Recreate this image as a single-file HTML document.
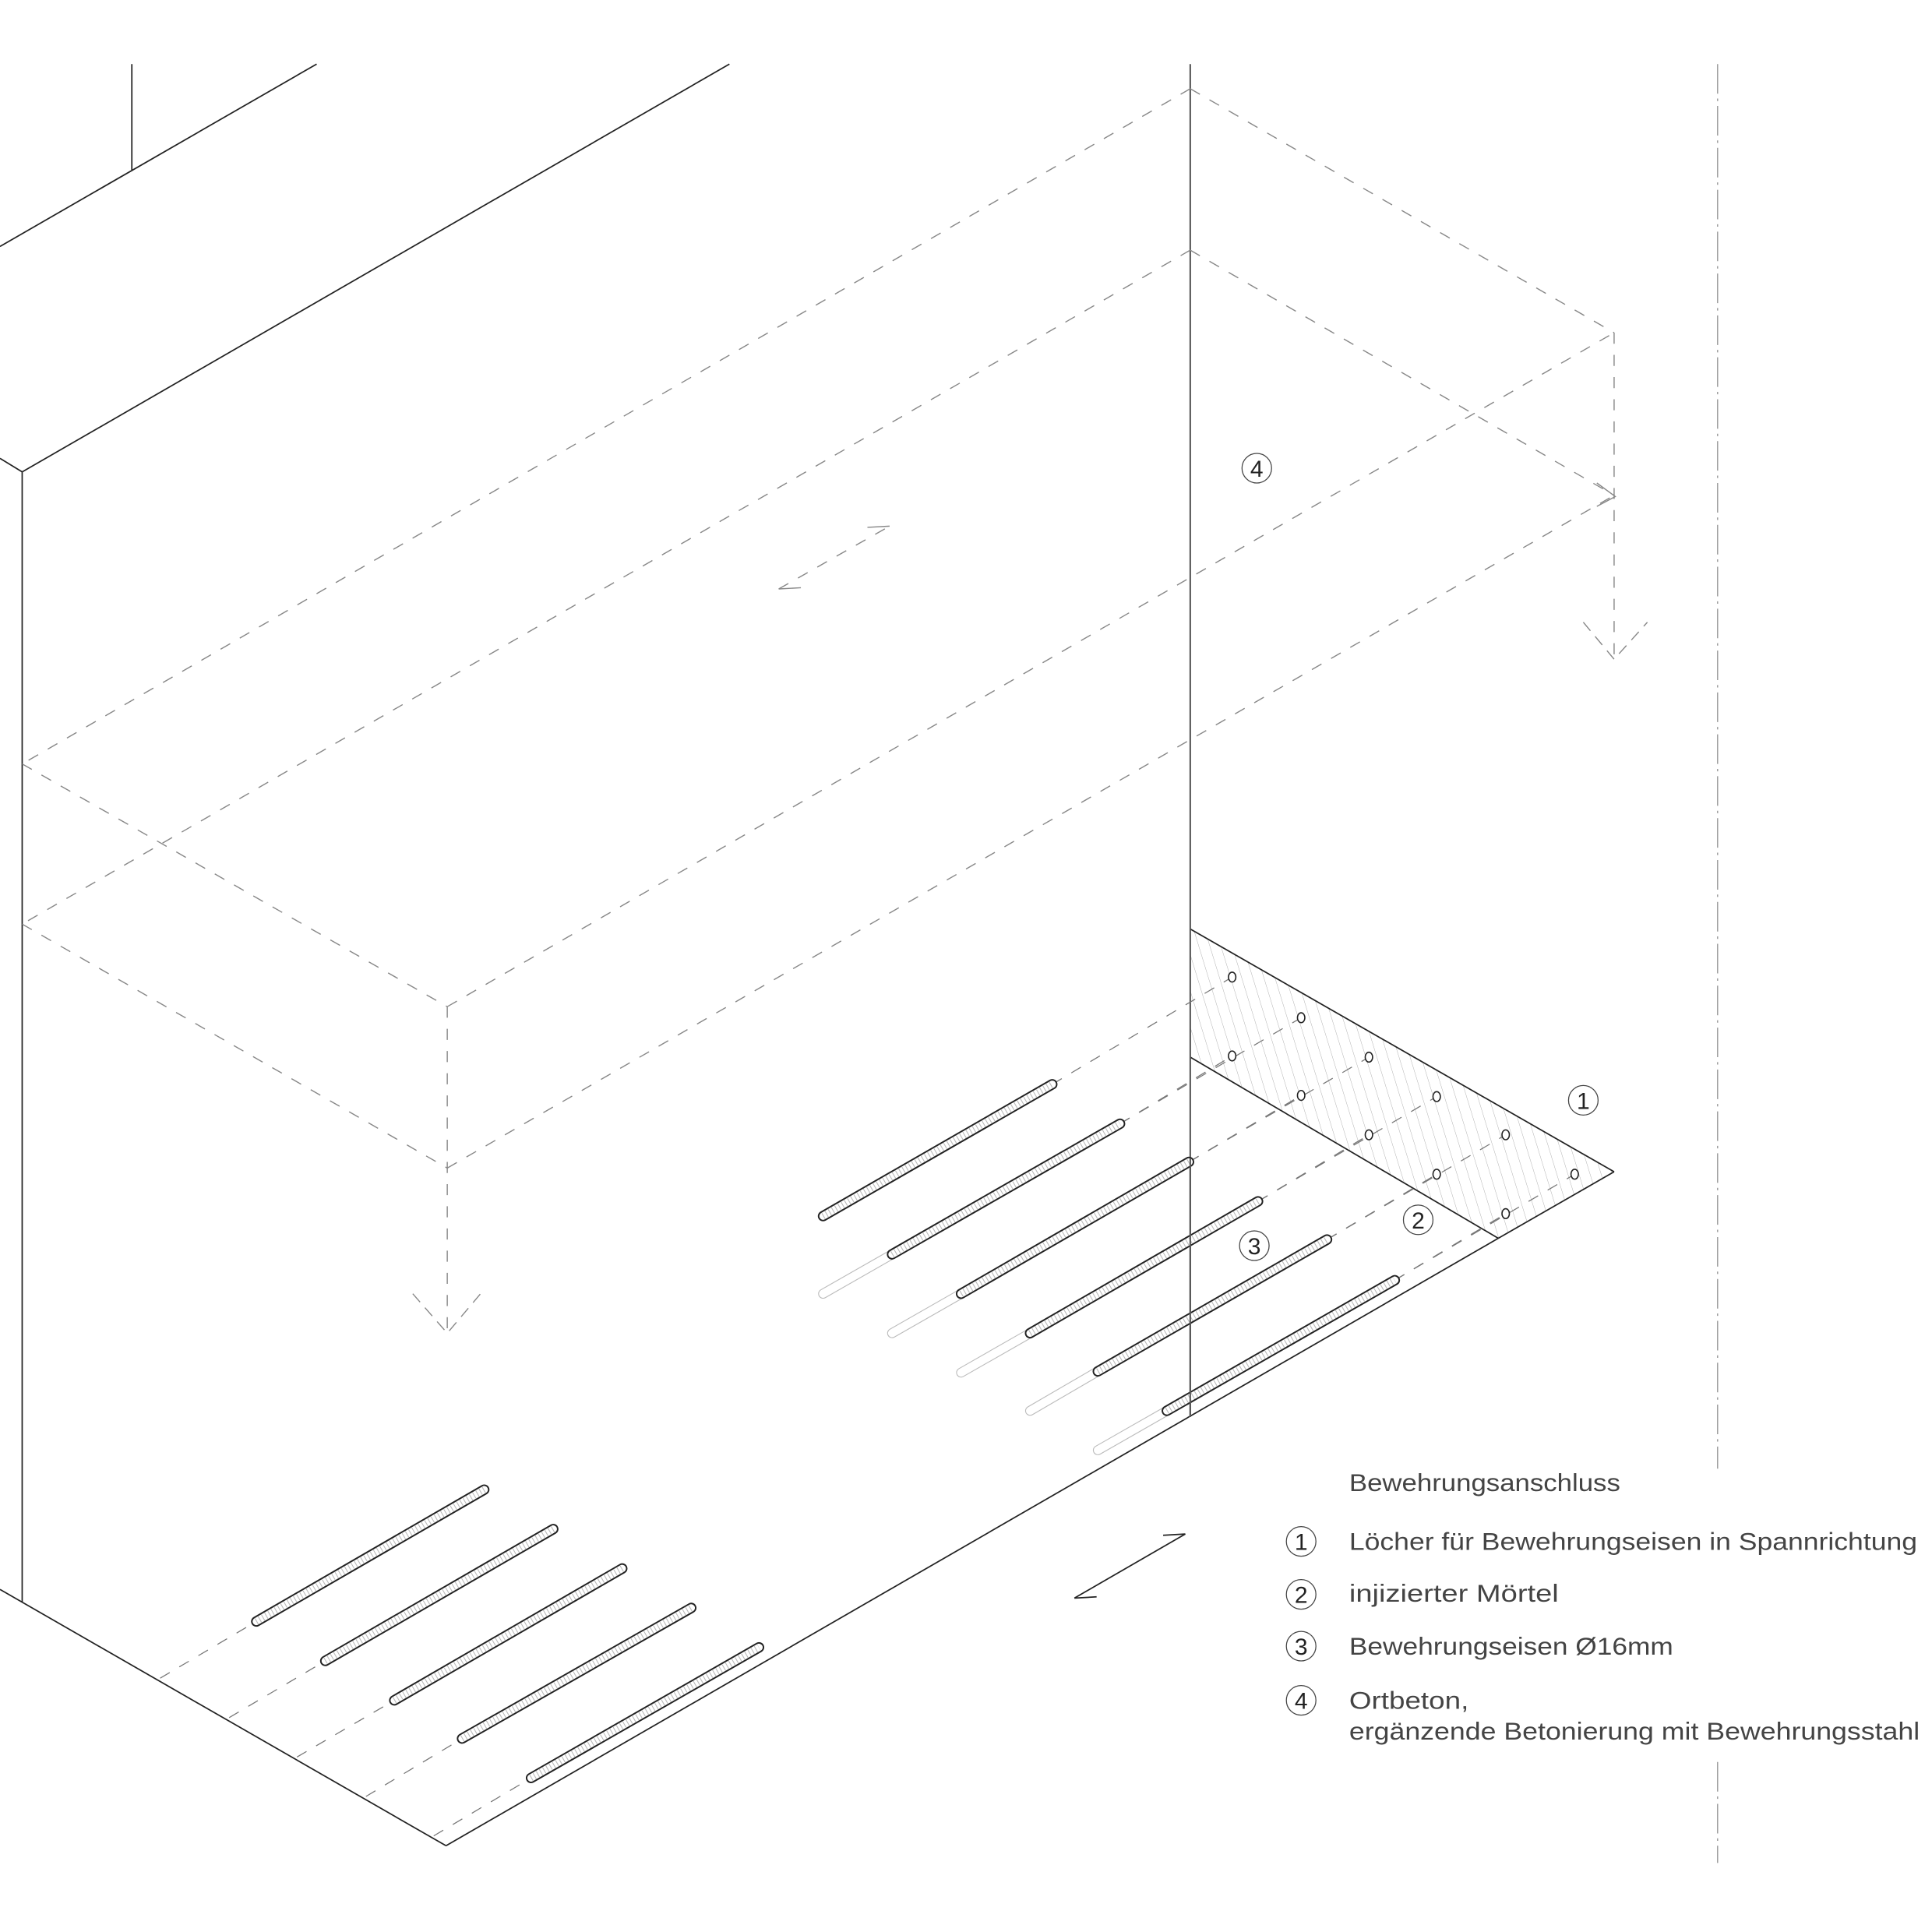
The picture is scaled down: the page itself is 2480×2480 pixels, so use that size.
<!DOCTYPE html>
<html><head><meta charset="utf-8"><style>
html,body{margin:0;padding:0;background:#fff}
svg{display:block}
text{font-family:"Liberation Sans",sans-serif;fill:#444}
</style></head><body>
<svg width="2480" height="2480" viewBox="0 0 1568 1568" xmlns="http://www.w3.org/2000/svg">
<defs>
<pattern id="h" patternUnits="userSpaceOnUse" width="9" height="30" patternTransform="skewX(17)">
<line x1="0" y1="0" x2="0" y2="30" stroke="#aaa" stroke-width="0.6"/>
</pattern>
</defs>
<rect width="1568" height="1568" fill="#fff"/>
<polygon points="966,754 1310,951 1216,1005 966,858" fill="url(#h)"/>
<g stroke="#222" stroke-width="1.1" fill="none">
<line x1="107" y1="52" x2="107" y2="138"/>
<line x1="0" y1="200" x2="257" y2="52"/>
<line x1="18" y1="383" x2="592" y2="52"/>
<line x1="0" y1="372" x2="18" y2="383"/>
<line x1="18" y1="383" x2="18" y2="1300"/>
<line x1="0" y1="1290" x2="362" y2="1498"/>
<line x1="362" y1="1498" x2="1216" y2="1005"/>
<line x1="1216" y1="1005" x2="1310" y2="951"/>
<line x1="966" y1="754" x2="1310" y2="951"/>
<line x1="966" y1="858" x2="1216" y2="1005"/>
<line x1="872" y1="1297" x2="962" y2="1245"/>
<line x1="872" y1="1297" x2="890" y2="1296"/>
<line x1="962" y1="1245" x2="944" y2="1246"/>
</g>
<line x1="966" y1="52" x2="966" y2="1150" stroke="#555" stroke-width="1.3"/>
<g stroke="#888" stroke-width="0.9" fill="none" stroke-dasharray="9 9">
<line x1="966" y1="72" x2="1310" y2="270"/>
<line x1="966" y1="72" x2="18" y2="620"/>
<line x1="966" y1="203" x2="18" y2="750"/>
<line x1="966" y1="203" x2="1310" y2="402"/>
<line x1="18" y1="620" x2="363" y2="817"/>
<line x1="18" y1="750" x2="363" y2="948"/>
<line x1="363" y1="817" x2="1310" y2="270"/>
<line x1="363" y1="948" x2="1310" y2="402"/>
<line x1="363" y1="817" x2="363" y2="1082"/>
<line x1="1310" y1="270" x2="1310" y2="535"/>
<line x1="632" y1="478" x2="722" y2="427"/>
</g>
<g stroke="#888" stroke-width="0.9" fill="none">
<polyline points="335,1050 363,1082 390,1050" stroke-dasharray="9 6"/>
<polyline points="1285,505 1310,535 1337,505" stroke-dasharray="9 6"/>
<polyline points="1296,392 1311,403 1296,411"/>
<line x1="722" y1="427" x2="704" y2="428"/>
<line x1="632" y1="478" x2="650" y2="477"/>
</g>
<g stroke="#999" stroke-width="0.9" stroke-dasharray="24 4 2 4">
<line x1="1394" y1="52" x2="1394" y2="1192"/>
<line x1="1394" y1="1430" x2="1394" y2="1512"/>
</g>
<g stroke="#777" stroke-width="0.8" stroke-dasharray="9 9" fill="none">
<line x1="854" y1="880" x2="1000" y2="793"/>
<line x1="909" y1="912" x2="1056" y2="826"/>
<line x1="965" y1="943" x2="1111" y2="858"/>
<line x1="1021" y1="975" x2="1166" y2="890"/>
<line x1="1077" y1="1006" x2="1222" y2="921"/>
<line x1="1132" y1="1039" x2="1278" y2="953"/>
<line x1="130" y1="1362" x2="208" y2="1316"/>
<line x1="186" y1="1394" x2="264" y2="1348"/>
<line x1="241" y1="1426" x2="320" y2="1380"/>
<line x1="297" y1="1458" x2="375" y2="1411"/>
<line x1="352" y1="1490" x2="431" y2="1443"/>
<line x1="909" y1="912" x2="1000" y2="857"/>
<line x1="965" y1="943" x2="1056" y2="889"/>
<line x1="1021" y1="975" x2="1111" y2="921"/>
<line x1="1077" y1="1006" x2="1166" y2="953"/>
<line x1="1132" y1="1039" x2="1222" y2="985"/>
</g>
<g stroke="#222" stroke-width="1" fill="#fff">
<ellipse cx="1000" cy="793" rx="3" ry="4"/>
<ellipse cx="1056" cy="826" rx="3" ry="4"/>
<ellipse cx="1000" cy="857" rx="3" ry="4"/>
<ellipse cx="1111" cy="858" rx="3" ry="4"/>
<ellipse cx="1056" cy="889" rx="3" ry="4"/>
<ellipse cx="1166" cy="890" rx="3" ry="4"/>
<ellipse cx="1111" cy="921" rx="3" ry="4"/>
<ellipse cx="1222" cy="921" rx="3" ry="4"/>
<ellipse cx="1166" cy="953" rx="3" ry="4"/>
<ellipse cx="1278" cy="953" rx="3" ry="4"/>
<ellipse cx="1222" cy="985" rx="3" ry="4"/>
</g>
<g stroke-linecap="round" fill="none">
<g stroke="#bbb" stroke-width="8">
<path d="M668,1050 L724,1018 M724,1082 L780,1050 M780,1114 L836,1082 M836,1145 L891,1113 M891,1177 L947,1145"/>
</g>
<g stroke="#fff" stroke-width="6.6">
<path d="M668,1050 L724,1018 M724,1082 L780,1050 M780,1114 L836,1082 M836,1145 L891,1113 M891,1177 L947,1145"/>
</g>
<g stroke="#222" stroke-width="8.5">
<path d="M668,987 L854,880 M724,1018 L909,912 M780,1050 L965,943 M836,1082 L1021,975 M891,1113 L1077,1006 M947,1145 L1132,1039"/>
<path d="M208,1316 L393,1209 M264,1348 L449,1241 M320,1380 L505,1273 M375,1411 L561,1305 M431,1443 L616,1337"/>
</g>
<g stroke="#fff" stroke-width="6">
<path d="M668,987 L854,880 M724,1018 L909,912 M780,1050 L965,943 M836,1082 L1021,975 M891,1113 L1077,1006 M947,1145 L1132,1039"/>
<path d="M208,1316 L393,1209 M264,1348 L449,1241 M320,1380 L505,1273 M375,1411 L561,1305 M431,1443 L616,1337"/>
</g>
<g stroke="#bbb" stroke-width="5.5" stroke-dasharray="0.7 2.3" stroke-linecap="butt">
<path d="M668,987 L854,880 M724,1018 L909,912 M780,1050 L965,943 M836,1082 L1021,975 M891,1113 L1077,1006 M947,1145 L1132,1039"/>
<path d="M208,1316 L393,1209 M264,1348 L449,1241 M320,1380 L505,1273 M375,1411 L561,1305 M431,1443 L616,1337"/>
</g>
</g>
<line x1="966" y1="940" x2="966" y2="1150" stroke="#555" stroke-width="1.3"/>
<g stroke="#444" stroke-width="0.8" fill="#fff">
<circle cx="1020" cy="380" r="12"/>
<circle cx="1285" cy="893" r="12"/>
<circle cx="1151" cy="990" r="12"/>
<circle cx="1018" cy="1011" r="12"/>
<circle cx="1056" cy="1251" r="12"/>
<circle cx="1056" cy="1294" r="12"/>
<circle cx="1056" cy="1336" r="12"/>
<circle cx="1056" cy="1380" r="12"/>
</g>
<g font-size="19" text-anchor="middle">
<text x="1020" y="387" style="fill:#222">4</text>
<text x="1285" y="900" style="fill:#222">1</text>
<text x="1151" y="997" style="fill:#222">2</text>
<text x="1018" y="1018" style="fill:#222">3</text>
<text x="1056" y="1258" style="fill:#222">1</text>
<text x="1056" y="1301" style="fill:#222">2</text>
<text x="1056" y="1343" style="fill:#222">3</text>
<text x="1056" y="1387" style="fill:#222">4</text>
</g>
<g font-size="20">
<text x="1095" y="1210" textLength="220" lengthAdjust="spacingAndGlyphs">Bewehrungsanschluss</text>
<text x="1095" y="1258" textLength="461" lengthAdjust="spacingAndGlyphs">Löcher für Bewehrungseisen in Spannrichtung</text>
<text x="1095" y="1300" textLength="170" lengthAdjust="spacingAndGlyphs">injizierter Mörtel</text>
<text x="1095" y="1343" textLength="263" lengthAdjust="spacingAndGlyphs">Bewehrungseisen Ø16mm</text>
<text x="1095" y="1387" textLength="97" lengthAdjust="spacingAndGlyphs">Ortbeton,</text>
<text x="1095" y="1412" textLength="463" lengthAdjust="spacingAndGlyphs">ergänzende Betonierung mit Bewehrungsstahl</text>
</g>
</svg>
</body></html>
